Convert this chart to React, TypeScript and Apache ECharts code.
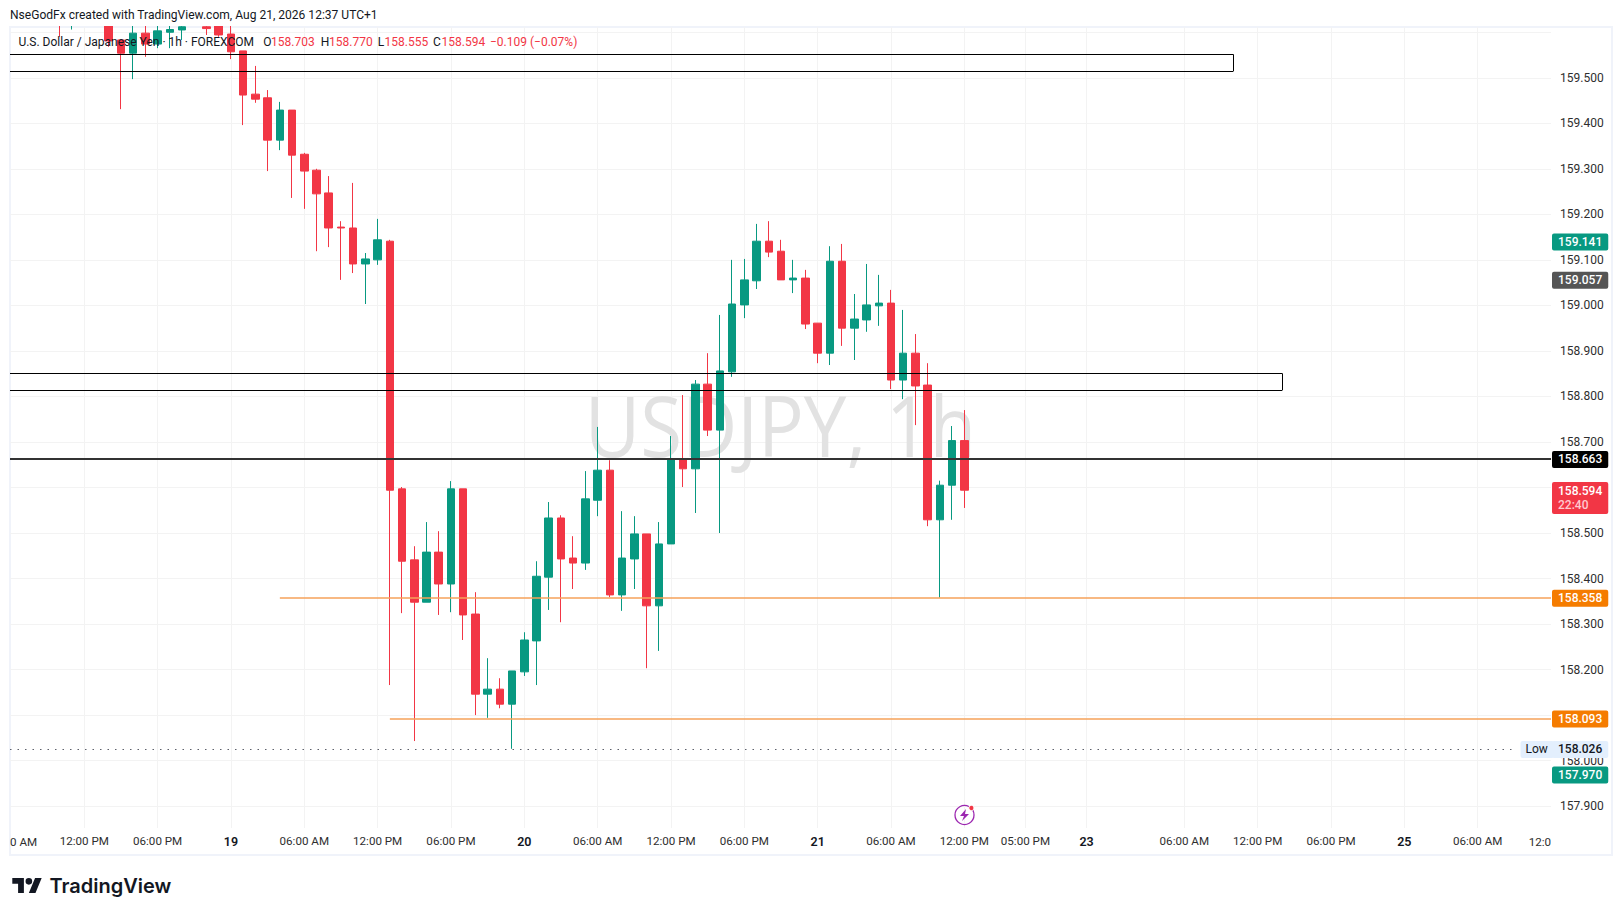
import React, { useEffect, useRef } from "react";
import * as echarts from "echarts";

const FONT = "Roboto, 'Open Sans', sans-serif";
const UP = "#089981";
const DOWN = "#f23645";

// Bar slots on the time axis (one slot per hour)
const slots = [4,5,8,9,10,11,12,13,14,16,17,18,19,20,21,22,23,24,25,26,27,28,29,30,31,32,33,34,35,36,37,38,39,40,41,42,43,44,45,46,47,48,49,50,51,52,53,54,55,56,57,58,59,60,61,62,63,64,65,66,67,68,69,70,71,72,73,74,75,76,77,78];
const opens = [159.72,159.64,159.62,159.583,159.554,159.598,159.574,159.600,159.605,159.612,159.625,159.596,159.559,159.464,159.456,159.363,159.429,159.332,159.297,159.247,159.172,159.170,159.091,159.100,159.141,158.597,158.441,158.348,158.458,158.388,158.597,158.322,158.146,158.157,158.124,158.195,158.263,158.403,158.533,158.445,158.434,158.572,158.638,158.364,158.443,158.498,158.340,158.476,158.663,158.641,158.827,158.726,158.854,159.001,159.054,159.141,159.119,159.056,159.060,158.961,158.895,159.097,158.950,158.968,158.999,159.005,158.836,158.895,158.825,158.529,158.605,158.703];
const closes = [159.66,159.68,159.581,159.554,159.598,159.574,159.603,159.606,159.612,159.608,159.594,159.557,159.462,159.453,159.363,159.429,159.330,159.295,159.245,159.170,159.170,159.091,159.102,159.144,158.594,158.438,158.348,158.458,158.388,158.597,158.320,158.146,158.157,158.124,158.197,158.265,158.405,158.533,158.443,158.434,158.575,158.638,158.364,158.445,158.498,158.340,158.476,158.663,158.641,158.827,158.726,158.856,159.003,159.056,159.141,159.117,159.056,159.060,158.959,158.895,159.097,158.950,158.970,159.001,159.005,158.836,158.895,158.823,158.529,158.605,158.703,158.594];
const lows = [159.590,159.606,159.568,159.431,159.497,159.546,159.565,159.565,159.583,159.594,159.590,159.541,159.396,159.445,159.295,159.341,159.236,159.212,159.119,159.128,159.056,159.071,159.003,159.089,158.166,158.324,158.043,158.348,158.320,158.326,158.265,158.100,158.094,158.115,158.026,158.186,158.166,158.331,158.304,158.377,158.419,158.537,158.359,158.329,158.377,158.203,158.241,158.476,158.601,158.544,158.713,158.500,158.843,158.972,159.036,159.106,159.056,159.027,158.948,158.873,158.869,158.911,158.880,158.942,158.955,158.816,158.794,158.737,158.515,158.358,158.529,158.555];
const highs = [159.75,159.70,159.65,159.583,159.62,159.62,159.62,159.625,159.63,159.64,159.64,159.615,159.559,159.526,159.473,159.447,159.429,159.335,159.300,159.284,159.185,159.269,159.115,159.190,159.144,158.601,158.471,158.524,158.504,158.614,158.597,158.370,158.225,158.181,158.197,158.282,158.438,158.568,158.539,158.493,158.636,158.733,158.660,158.548,158.537,158.498,158.524,158.713,158.803,158.836,158.895,158.979,159.100,159.102,159.179,159.185,159.144,159.100,159.078,158.961,159.130,159.135,159.025,159.091,159.067,159.034,158.990,158.937,158.873,158.615,158.735,158.770];

// Time axis
const timeTicks = [6,12,18,24,30,36,42,48,54,60,66,72,78,83,88,96,102,108,114,120];
const timeLabels = ["12:00 PM","06:00 PM","19","06:00 AM","12:00 PM","06:00 PM","20","06:00 AM","12:00 PM","06:00 PM","21","06:00 AM","12:00 PM","05:00 PM","23","06:00 AM","12:00 PM","06:00 PM","25","06:00 AM"];
const dateLabels = ["19","20","21","23","25"];

// Price axis
const priceGrid = [157.9,158.0,158.1,158.2,158.3,158.4,158.5,158.6,158.7,158.8,158.9,159.0,159.1,159.2,159.3,159.4,159.5,159.6];
const priceLabels = [157.9,158.0,158.2,158.3,158.4,158.5,158.7,158.8,158.9,159.0,159.1,159.2,159.3,159.4,159.5];

const X_MIN = -0.078;
const X_MAX = 126;
const Y_MIN = 157.852;
const Y_MAX = 159.6115;

// Drawings
const box1 = { low: 159.5142, high: 159.5515, end: 100 };
const box2 = { low: 158.8134, high: 158.8507, end: 104 };
const blackLevel = 158.663;
const orangeLevels = [{ price: 158.358, from: 22 }, { price: 158.093, from: 31 }];
const lowLevel = 158.026;
const lowEnd = 123.1;
const plainTags = [
  { price: 159.141, color: UP },
  { price: 159.057, color: "#555555" },
  { price: 157.970, color: UP },
];
const lastPrice = 158.594;
const countdown = "22:40";

const hSeg = (y: number, a: number, b: number, lineStyle: any, label?: any) => [
  { coord: [a, y], lineStyle, label: label || { show: false } },
  { coord: [b, y] },
];

const tag = (text: string, bg: string, color = "#ffffff") => ({
  show: true,
  position: "end",
  distance: 1,
  formatter: text,
  backgroundColor: bg,
  color,
  fontFamily: FONT,
  fontSize: 12,
  fontWeight: 500,
  lineHeight: 13,
  padding: [2, 6, 2, 6],
  borderRadius: 2,
  offset: [0, 0.7],
});

const hidden = { width: 0, color: "transparent" };
const boxStyle = { color: "#000000", width: 1, type: "solid" };
const orangeStyle = { color: "#f6a25a", width: 1.5, type: "solid" };

const boxSegments = (b: { low: number; high: number; end: number }) => [
  hSeg(b.high, X_MIN, b.end, boxStyle),
  hSeg(b.low, X_MIN, b.end, boxStyle),
  [
    { coord: [b.end, b.low], lineStyle: boxStyle, label: { show: false } },
    { coord: [b.end, b.high] },
  ],
];

echarts.graphic.registerShape(
  "tvLogo",
  echarts.graphic.extendPath("M14 22H7V11H0V4h14v18zM28 22h-8l7.5-18h8L28 22zM16 8a4 4 0 1 0 8 0a4 4 0 1 0 -8 0z", {})
);
echarts.graphic.registerShape(
  "bolt",
  echarts.graphic.extendPath("M6 0L0 7h4L2 12l7-7H5L6 0z", {})
);

const headerParts = [
  { x: 18.4, text: "U.S. Dollar / Japanese Yen · 1h · FOREXCOM", color: "#131722" },
  { x: 263.3, text: "O", color: "#131722" },
  { x: 271, text: "158.703", color: DOWN },
  { x: 320.7, text: "H", color: "#131722" },
  { x: 329, text: "158.770", color: DOWN },
  { x: 377.7, text: "L", color: "#131722" },
  { x: 384.5, text: "158.555", color: DOWN },
  { x: 433, text: "C", color: "#131722" },
  { x: 441.5, text: "158.594", color: DOWN },
  { x: 490, text: "−0.109 (−0.07%)", color: DOWN },
];

export default function App() {
  const ref = useRef<HTMLDivElement>(null);
  useEffect(() => {
    const chart = echarts.init(ref.current!, undefined, { renderer: "svg" });
    chart.setOption({
      animation: false,
      backgroundColor: "#ffffff",
      grid: { left: 10, top: 27, width: 1541, height: 801 },
      xAxis: {
        type: "value",
        min: X_MIN,
        max: X_MAX,
        axisLine: { show: false },
        axisTick: { show: false, customValues: timeTicks },
        splitLine: { show: true, lineStyle: { color: "#f3f3f3", width: 1 } },
        axisLabel: {
          customValues: timeTicks,
          margin: 7,
          color: "#2e2e2e",
          fontFamily: FONT,
          fontSize: 11.6,
          formatter: (v: number) => {
            const s = timeLabels[timeTicks.indexOf(v)];
            return dateLabels.includes(s) ? `{d|${s}}` : s;
          },
          rich: { d: { fontFamily: FONT, fontSize: 12.5, fontWeight: 600, color: "#131722" } },
        },
      },
      yAxis: {
        type: "value",
        position: "right",
        min: Y_MIN,
        max: Y_MAX,
        axisLine: { show: false },
        axisTick: { show: false, customValues: priceGrid },
        splitLine: { show: true, lineStyle: { color: "#f3f3f3", width: 1 } },
        axisLabel: {
          customValues: priceLabels,
          margin: 9,
          padding: [1.5, 0, 0, 0],
          color: "#2e2e2e",
          fontFamily: FONT,
          fontSize: 12,
          formatter: (v: number) => v.toFixed(3),
        },
      },
      series: [
        {
          type: "line",
          data: [],
          z: 1,
          silent: true,
          markLine: {
            silent: true,
            symbol: "none",
            animation: false,
            data: [
              ...boxSegments(box1),
              ...boxSegments(box2),
              hSeg(blackLevel, X_MIN, X_MAX, { color: "#333333", width: 2, type: "solid" }, tag(blackLevel.toFixed(3), "#000000")),
              ...orangeLevels.map((o) => hSeg(o.price, o.from, X_MAX, orangeStyle, tag(o.price.toFixed(3), "#f57c00"))),
              hSeg(lowLevel, X_MIN, lowEnd, { color: "#5d606b", width: 1, type: [1.5, 6] }, {
                show: true, position: "end", distance: 5, formatter: "Low", backgroundColor: "#e3effd", color: "#131722",
                fontFamily: FONT, fontSize: 12, lineHeight: 13, padding: [2, 6, 2, 5], borderRadius: 2, offset: [0, 0.7],
              }),
              hSeg(lowLevel, X_MIN, X_MAX, hidden, tag(lowLevel.toFixed(3), "#e3effd", "#131722")),
              ...plainTags.map((t) => hSeg(t.price, X_MIN, X_MAX, hidden, tag(t.price.toFixed(3), t.color))),
              hSeg(lastPrice, X_MIN, X_MAX, hidden, {
                ...tag(`{v|${lastPrice.toFixed(3)}}\n{t|${countdown}}`, DOWN),
                offset: [0, 7.7],
                rich: {
                  v: { color: "#ffffff", fontFamily: FONT, fontSize: 12, fontWeight: 500, lineHeight: 14 },
                  t: { color: "#ffc9ce", fontFamily: FONT, fontSize: 12, fontWeight: 500, lineHeight: 14 },
                },
              }),
            ],
          },
        },
        {
          type: "candlestick",
          layout: "horizontal",
          z: 2,
          silent: true,
          barWidth: 8,
          itemStyle: { color: UP, color0: DOWN, borderColor: UP, borderColor0: DOWN, borderWidth: 1 },
          encode: { x: 0, y: [1, 2, 3, 4] },
          data: slots.map((s, i) => [s, opens[i], closes[i], lows[i], highs[i]]),
        },
      ],
      graphic: [
        { type: "rect", z: 0, silent: true, shape: { x: 10, y: 27, width: 1602, height: 828 }, style: { fill: "none", stroke: "#f0f3fa", lineWidth: 2 } },
        { type: "text", z: 1, silent: true, x: 780.5, y: 425, scaleX: 0.908, style: { text: "USDJPY, 1h", fill: "#e2e2e2", font: `84px 'Open Sans', sans-serif`, align: "center", verticalAlign: "middle" } },
        { type: "rect", z: 10, silent: true, shape: { x: 0, y: 0, width: 1623, height: 26 }, style: { fill: "#ffffff" } },
        { type: "text", z: 50, silent: true, x: 10, y: 15, style: { text: "NseGodFx created with TradingView.com, Aug 21, 2026 12:37 UTC+1", fill: "#131722", font: `12.05px ${FONT}`, align: "left", verticalAlign: "middle" } },
        ...headerParts.map((p) => ({ type: "text", z: 50, silent: true, x: p.x, y: 41.7, style: { text: p.text, fill: p.color, font: `12px ${FONT}`, align: "left", verticalAlign: "middle" } })),
        { type: "text", z: 50, silent: true, x: 10, y: 842, style: { text: "0 AM", fill: "#2e2e2e", font: `11.6px ${FONT}`, align: "left", verticalAlign: "middle" } },
        { type: "text", z: 50, silent: true, x: 1551, y: 842, style: { text: "12:0", fill: "#2e2e2e", font: `11.6px ${FONT}`, align: "right", verticalAlign: "middle" } },
        { type: "circle", z: 50, silent: true, shape: { cx: 964.5, cy: 815, r: 9.5 }, style: { fill: "none", stroke: "#9c27b0", lineWidth: 1.3 } },
        { type: "bolt", z: 51, silent: true, x: 960, y: 809, style: { fill: "#9c27b0" } },
        { type: "circle", z: 52, silent: true, shape: { cx: 971.4, cy: 808, r: 2.6 }, style: { fill: DOWN, stroke: "#ffffff", lineWidth: 1 } },
        { type: "tvLogo", z: 50, silent: true, x: 12.3, y: 874.7, scaleX: 0.828, scaleY: 0.828, style: { fill: "#131722" } },
        { type: "text", z: 50, silent: true, x: 49.5, y: 886, style: { text: "TradingView", fill: "#131722", font: `600 20px Inter, ${FONT}`, align: "left", verticalAlign: "middle" } },
      ],
    });
    return () => chart.dispose();
  }, []);
  return <div ref={ref} style={{ position: "fixed", left: 0, top: 0, width: 1623, height: 916, background: "#fff" }} />;
}
